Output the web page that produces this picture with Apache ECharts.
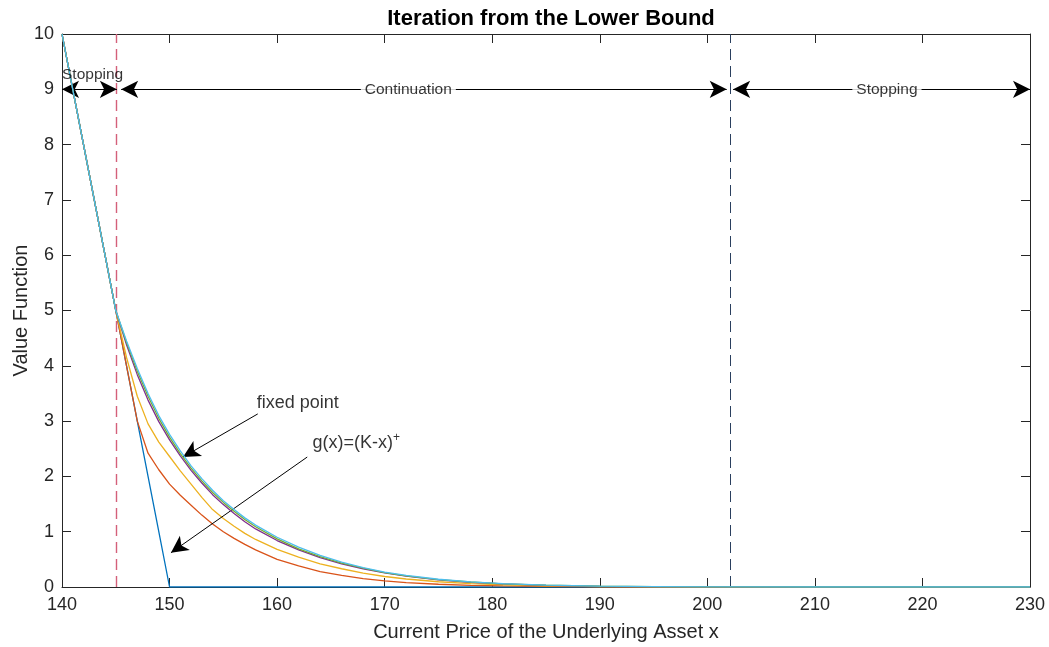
<!DOCTYPE html>
<html>
<head>
<meta charset="utf-8">
<script src="https://cdn.jsdelivr.net/npm/echarts@6/dist/echarts.min.js"></script>
<style>html,body{margin:0;padding:0;background:#fff}#c{width:1049px;height:647px}</style>
</head>
<body>
<div id="c"></div>
<script>
// ---- data ----
const xGrid = [140,141,142,143,144,145,146,147,148,149,150,151,152,153,154,155,156,157,158,160,162,164,166,168,170,172,175,178,181,185,190,195,200,210,220,230];
const gPayoff = [10,9,8,7,6,5,4,3,2,1,0,0,0,0,0,0,0,0,0,0,0,0,0,0,0,0,0,0,0,0,0,0,0,0,0,0];
const iter1 = [10,9,8,7,6,5,4.0,3.0,2.42,2.12,1.86,1.66,1.48,1.30,1.14,1.00,0.88,0.77,0.67,0.50,0.38,0.28,0.21,0.15,0.11,0.08,0.05,0.03,0.02,0.01,0.004,0,0,0,0,0];
const iter2 = [10,9,8,7,6,5,4.15,3.45,2.95,2.62,2.36,2.10,1.86,1.62,1.40,1.24,1.10,0.97,0.86,0.68,0.54,0.42,0.33,0.25,0.19,0.145,0.095,0.06,0.04,0.022,0.009,0.003,0,0,0,0];
const iter3 = [10,9,8,7,6,5,4.38,3.84,3.38,2.99,2.66,2.37,2.11,1.88,1.67,1.49,1.33,1.18,1.05,0.84,0.67,0.53,0.42,0.33,0.255,0.195,0.13,0.085,0.055,0.031,0.013,0.005,0.002,0,0,0];
const iter4 = [10,9,8,7,6,5,4.42,3.90,3.45,3.05,2.71,2.41,2.15,1.92,1.71,1.53,1.37,1.22,1.09,0.87,0.69,0.55,0.43,0.34,0.26,0.20,0.135,0.09,0.058,0.033,0.015,0.006,0.002,0,0,0];
const iter5 = [10,9,8,7,6,5,4.45,3.95,3.50,3.10,2.76,2.46,2.19,1.96,1.75,1.56,1.40,1.25,1.12,0.90,0.72,0.57,0.45,0.35,0.27,0.21,0.14,0.093,0.06,0.035,0.016,0.007,0.002,0,0,0];
const lowerBoundary = 145;
const upperBoundary = 202.1;
const xTicks = [140,150,160,170,180,190,200,210,220,230];
const yTicks = [0,1,2,3,4,5,6,7,8,9,10];

// ---- chart ----
const colors = ['#0072BD','#D95319','#EDB120','#7E2F8E','#77AC30','#4DBEEE'];
const seriesValues = [gPayoff, iter1, iter2, iter3, iter4, iter5];
const pair = (xs, ys) => xs.map((x, i) => [x, ys[i]]);
const axisColor = '#262626';
const font = 'Liberation Sans, Arial, Helvetica, sans-serif';

const lineSeries = seriesValues.map((vals, i) => ({
  type: 'line', data: pair(xGrid, vals), showSymbol: false, symbol: 'none',
  lineStyle: { color: colors[i], width: 1.3 }, z: 2 + i, animation: false
}));

const arrowStyle = { color: '#000', width: 1, type: 'solid' };
const annotSeries = {
  type: 'line', data: [], z: 20, animation: false,
  markLine: {
    silent: true, animation: false, symbolSize: [13, 17],
    label: { show: false },
    lineStyle: arrowStyle,
    data: [
      [{ coord: [140, 9], symbol: 'arrow' }, { coord: [145.1, 9], symbol: 'arrow' }],
      [{ coord: [145.5, 9], symbol: 'arrow' }, { coord: [201.8, 9], symbol: 'arrow' }],
      [{ coord: [202.4, 9], symbol: 'arrow' }, { coord: [230, 9], symbol: 'arrow' }],
      [{ coord: [158.2, 3.13], symbol: 'none' }, { coord: [151.25, 2.35], symbol: 'arrow' }],
      [{ coord: [162.8, 2.35], symbol: 'none' }, { coord: [150.13, 0.62], symbol: 'arrow' }]
    ]
  }
};
const boundSeries = {
  type: 'line', data: [], z: 1, animation: false,
  markLine: {
    silent: true, animation: false, symbol: 'none', label: { show: false },
    data: [
      { xAxis: lowerBoundary, lineStyle: { color: '#D4607A', width: 1.4, type: [11, 6] } },
      { xAxis: upperBoundary, lineStyle: { color: '#2A3F5E', width: 1, type: [11, 6] } }
    ]
  }
};
const txt = (x, y, text, opts) => ({
  value: [x, y],
  label: Object.assign({ show: true, formatter: text, color: '#000', fontSize: 15.5, fontFamily: font }, opts)
});
const textSeries = {
  type: 'scatter', symbolSize: 0, z: 30, animation: false, silent: true,
  label: { show: true },
  data: [
    txt(140, 9.27, 'Stopping', { position: 'inside', align: 'left', verticalAlign: 'middle' }),
    txt(172.2, 9, 'Continuation', { position: 'inside', align: 'center', verticalAlign: 'middle', backgroundColor: '#fff', padding: [0, 4] }),
    txt(216.7, 9, 'Stopping', { position: 'inside', align: 'center', verticalAlign: 'middle', backgroundColor: '#fff', padding: [0, 4] }),
    txt(158.1, 3.33, 'fixed point', { position: 'inside', align: 'left', verticalAlign: 'middle', fontSize: 18 }),
    txt(163.3, 2.6, '{a|g(x)=(K-x)}{b|+}', { position: 'inside', align: 'left', verticalAlign: 'middle',
      rich: { a: { fontSize: 18, fontFamily: font, color: '#000', lineHeight: 24 },
              b: { fontSize: 12, fontFamily: font, color: '#000', verticalAlign: 'top', lineHeight: 24, padding: [0,0,8,0] } } })
  ]
};

const xAxisBase = {
  type: 'value', min: xTicks[0], max: xTicks[xTicks.length - 1], interval: xTicks[1] - xTicks[0],
  axisLine: { show: true, onZero: false, lineStyle: { color: axisColor, width: 1 } },
  axisTick: { show: true, inside: true, length: 9, lineStyle: { color: axisColor } },
  splitLine: { show: false }
};
const yAxisBase = {
  type: 'value', min: yTicks[0], max: yTicks[yTicks.length - 1], interval: yTicks[1] - yTicks[0],
  axisLine: { show: true, onZero: false, lineStyle: { color: axisColor, width: 1 } },
  axisTick: { show: true, inside: true, length: 9, lineStyle: { color: axisColor } },
  splitLine: { show: false }
};

const chart = echarts.init(document.getElementById('c'), null, { renderer: 'canvas' });
chart.setOption({
  animation: false,
  backgroundColor: '#fff',
  title: {
    text: 'Iteration from the Lower Bound', left: 546, top: 3, textAlign: 'center',
    textStyle: { fontSize: 22, fontWeight: 'bold', color: '#000', fontFamily: font }
  },
  grid: { left: 62, right: 19, top: 34, bottom: 60, containLabel: false, outerBoundsMode: 'none' },
  xAxis: [
    Object.assign({}, xAxisBase, {
      position: 'bottom',
      axisLabel: { show: true, fontSize: 18, color: axisColor, margin: 9, fontFamily: font },
      name: 'Current Price of the Underlying Asset x', nameLocation: 'middle', nameGap: 35,
      nameMoveOverlap: false,
      nameTextStyle: { fontSize: 20, color: axisColor, fontFamily: font }
    }),
    Object.assign({}, xAxisBase, { position: 'top', axisLabel: { show: false } })
  ],
  yAxis: [
    Object.assign({}, yAxisBase, {
      position: 'left',
      axisLabel: { show: true, fontSize: 18, color: axisColor, margin: 8, fontFamily: font },
      name: 'Value Function', nameLocation: 'middle', nameGap: 31,
      nameMoveOverlap: false,
      nameTextStyle: { fontSize: 20, color: axisColor, fontFamily: font }
    }),
    Object.assign({}, yAxisBase, { position: 'right', axisLabel: { show: false } })
  ],
  series: [boundSeries].concat(lineSeries, [annotSeries, textSeries])
});
</script>
</body>
</html>
